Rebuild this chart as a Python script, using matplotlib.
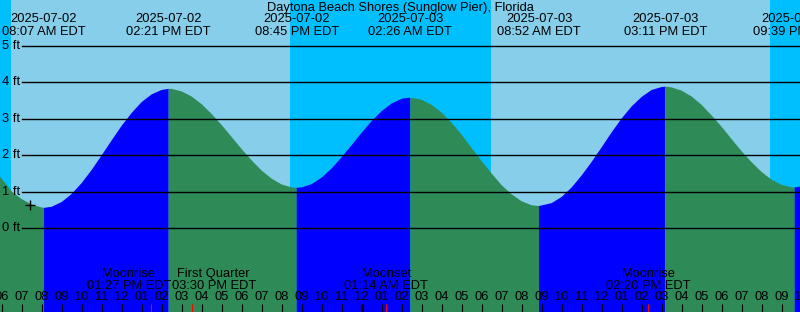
import matplotlib
matplotlib.use("Agg")
import matplotlib.pyplot as plt
import matplotlib.transforms as mtransforms
import numpy as np

plt.rcParams['font.family'] = ['Liberation Sans', 'DejaVu Sans']
plt.rcParams['font.size'] = 9.3

title = "Daytona Beach Shores (Sunglow Pier), Florida"

# hours since 2025-07-02 00:00 EDT, predicted height in ft
tide_hours = [5.9, 6.0, 6.5, 7.0, 7.5, 8.0, 8.117, 8.5, 9.0, 9.5, 10.0, 10.5, 11.0, 11.5,
              12.0, 12.5, 13.0, 13.5, 14.0, 14.35, 14.5, 15.0, 15.5, 16.0, 16.5, 17.0,
              17.5, 18.0, 18.5, 19.0, 19.5, 20.0, 20.5, 20.75, 21.0, 21.5, 22.0, 22.5,
              23.0, 23.5, 24.0, 24.5, 25.0, 25.5, 26.0, 26.433, 27.0, 27.5, 28.0, 28.5,
              29.0, 29.5, 30.0, 30.5, 31.0, 31.5, 32.0, 32.5, 32.867, 33.5, 34.0, 34.5,
              35.0, 35.5, 36.0, 36.5, 37.0, 37.5, 38.0, 38.5, 39.0, 39.183, 39.5, 40.0,
              40.5, 41.0, 41.5, 42.0, 42.5, 43.0, 43.5, 44.0, 44.5, 45.0, 45.5, 45.65, 46.0]
tide_ft = [1.42, 1.36, 1.01, 0.80, 0.65, 0.57, 0.56, 0.59, 0.72, 0.94, 1.24, 1.60, 2.00, 2.41,
           2.81, 3.16, 3.46, 3.67, 3.79, 3.82, 3.82, 3.75, 3.61, 3.40, 3.13, 2.83,
           2.50, 2.17, 1.86, 1.58, 1.36, 1.20, 1.12, 1.11, 1.12, 1.21, 1.39, 1.64,
           1.95, 2.28, 2.62, 2.94, 3.21, 3.42, 3.55, 3.58, 3.52, 3.38, 3.17, 2.89,
           2.56, 2.20, 1.84, 1.50, 1.18, 0.93, 0.74, 0.63, 0.61, 0.69, 0.86, 1.12,
           1.45, 1.82, 2.22, 2.63, 3.01, 3.34, 3.60, 3.79, 3.87, 3.88, 3.86, 3.77,
           3.61, 3.38, 3.09, 2.78, 2.44, 2.11, 1.81, 1.54, 1.33, 1.19, 1.12, 1.12, 1.15]

# highs and lows
extreme_hours = [8.117, 14.35, 20.75, 26.433, 32.867, 39.183, 45.65]
extreme_dates = ["2025-07-02", "2025-07-02", "2025-07-02", "2025-07-03",
                 "2025-07-03", "2025-07-03", "2025-07-03"]
extreme_times = ["08:07 AM EDT", "02:21 PM EDT", "08:45 PM EDT", "02:26 AM EDT",
                 "08:52 AM EDT", "03:11 PM EDT", "09:39 PM EDT"]

sunrise_hours = [6.47, 30.47]
sunset_hours = [20.42, 44.42]

moon_hours = [13.45, 15.5, 25.233, 38.333]
moon_names = ["Moonrise", "First Quarter", "Moonset", "Moonrise"]
moon_times = ["01:27 PM EDT", "03:30 PM EDT", "01:14 AM EDT", "02:20 PM EDT"]
moon_shift = [-1.1, 1.1, 0, 0]  # labels pushed apart where they collide

now_hour, now_ft = 7.415, 0.64

W, H = 800, 312
t0, t1 = 5.915, 45.915
fig = plt.figure(figsize=(W / 100, H / 100), dpi=100)
ax = fig.add_axes([0, 0, 1, 1])
ax.set_xlim(t0, t1)
ax.set_ylim(-(H - 228.3) / 36.5, 228.3 / 36.5)
ax.axis('off')

def fy(py):
    return 1 - py / H

bt = mtransforms.blended_transform_factory(ax.transData, ax.transAxes)

# day / night sky
ax.axvspan(t0 - 1, t1 + 1, color='#00bfff', zorder=0, lw=0)
for a, b in zip(sunrise_hours, sunset_hours):
    ax.axvspan(a, b, color='#87ceeb', zorder=0.5, lw=0)

# water, blue while rising, green while falling
hrs = np.array(tide_hours)
ft = np.array(tide_ft)
bounds = [tide_hours[0]] + extreme_hours + [tide_hours[-1]]
for a, b in zip(bounds[:-1], bounds[1:]):
    m = (hrs >= a) & (hrs <= b)
    rising = ft[m][-1] > ft[m][0]
    ax.fill_between(hrs[m], ft[m], -10, color='#0000ff' if rising else '#2e8b57',
                    lw=0, zorder=1)

# height lines
for lvl in range(0, 6):
    ax.axhline(lvl, xmin=22 / W, xmax=1, color='black', lw=1.0, zorder=2)
    ax.text(t0 + 2 / 20, lvl, f"{lvl} ft", ha='left', va='center', zorder=3)

ax.plot([now_hour], [now_ft], marker='+', color='black', ms=7, mew=1, zorder=3)

fig.text(0.5, fy(7.5), title, ha='center', va='center')
for h, d, s in zip(extreme_hours, extreme_dates, extreme_times):
    ax.text(h, fy(19.5), d, transform=bt, ha='center', va='center', zorder=3)
    ax.text(h, fy(32), s, transform=bt, ha='center', va='center', zorder=3)

# hour ticks along the bottom
for h in range(6, 47):
    lab = f"{(h % 12) or 12:02d}"
    ax.text(h, fy(297.5), lab, transform=bt, ha='center', va='center', zorder=3)
    ax.plot([h, h], [0, fy(304)], transform=bt, color='black',
            lw=2.2 if h % 24 == 0 else 0.8, zorder=3, solid_capstyle='butt')

for h, n, s, dx in zip(moon_hours, moon_names, moon_times, moon_shift):
    ax.plot([h, h], [0, fy(304)], transform=bt, color='red', lw=0.8, zorder=3,
            solid_capstyle='butt')
    ax.text(h + dx, fy(274), n, transform=bt, ha='center', va='center', zorder=3)
    ax.text(h + dx, fy(286), s, transform=bt, ha='center', va='center', zorder=3)

fig.savefig("out.png", dpi=100)
